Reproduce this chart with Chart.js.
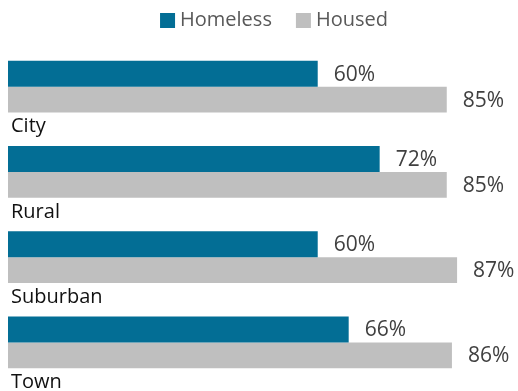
<!DOCTYPE html>
<html>
<head>
<meta charset="utf-8">
<script src="https://cdn.jsdelivr.net/npm/chart.js@4"></script>
<style>
  html, body { margin: 0; padding: 0; background: #fff; overflow: hidden; }
  #wrap { width: 518px; height: 391px; }
</style>
</head>
<body>
<div id="wrap"><canvas id="areaChart"></canvas></div>
<script>
const categories = ["City", "Rural", "Suburban", "Town"];
const homeless = [60, 72, 60, 66];
const housed = [85, 85, 87, 86];
const seriesNames = ["Homeless", "Housed"];

const FONT = "'Open Sans', sans-serif";

// legend drawn by hand so the box/text spacing matches the original
const topLegend = {
    id: "topLegend",
    afterDraw(chart) {
        const ctx = chart.ctx;
        ctx.save();
        ctx.font = "20px " + FONT;
        ctx.textBaseline = "middle";
        ctx.textAlign = "left";
        const items = chart.data.datasets.map(ds => ({ text: ds.label, color: ds.backgroundColor }));
        const gap = 24;
        let total = 0;
        items.forEach((it, i) => {
            it.w = 20 + ctx.measureText(it.text).width;
            total += it.w + (i > 0 ? gap : 0);
        });
        let x = 274 - total / 2;
        items.forEach(it => {
            ctx.fillStyle = it.color;
            ctx.fillRect(x, 13, 15, 15);
            ctx.fillStyle = "#595959";
            ctx.fillText(it.text, x + 20, 20);
            x += it.w + gap;
        });
        ctx.restore();
    }
};

// category names sit under each pair of bars, values to the right of each bar
const barLabels = {
    id: "barLabels",
    afterDatasetsDraw(chart) {
        const ctx = chart.ctx;
        ctx.save();
        ctx.textBaseline = "middle";
        ctx.textAlign = "left";
        ctx.font = "21px " + FONT;
        chart.data.datasets.forEach((ds, di) => {
            const meta = chart.getDatasetMeta(di);
            meta.data.forEach((bar, i) => {
                ctx.fillStyle = "#404040";
                ctx.fillText(ds.data[i] + "%", bar.x + 16, bar.y + 1);
            });
        });
        ctx.font = "20px " + FONT;
        const last = chart.getDatasetMeta(chart.data.datasets.length - 1);
        last.data.forEach((bar, i) => {
            ctx.fillStyle = "#111";
            ctx.fillText(chart.data.labels[i], chart.chartArea.left + 3, bar.y + bar.height / 2 + 14);
        });
        ctx.restore();
    }
};

const ctx = document.getElementById("areaChart").getContext("2d");
new Chart(ctx, {
    type: "bar",
    data: {
        labels: categories,
        datasets: [
            {
                label: seriesNames[0],
                data: homeless,
                backgroundColor: "#036E95",
                categoryPercentage: 0.609,
                barPercentage: 1.0,
            },
            {
                label: seriesNames[1],
                data: housed,
                backgroundColor: "#BFBFBF",
                categoryPercentage: 0.609,
                barPercentage: 1.0,
            },
        ],
    },
    options: {
        indexAxis: "y",
        responsive: true,
        maintainAspectRatio: false,
        animation: false,
        layout: {
            padding: { left: 8, right: 0, top: 44, bottom: 6 },
        },
        plugins: {
            legend: { display: false },
            tooltip: { enabled: false },
        },
        scales: {
            x: {
                display: false,
                min: 0,
                max: 98.8,
            },
            y: {
                display: false,
            },
        },
    },
    plugins: [barLabels, topLegend],
});
</script>
</body>
</html>
